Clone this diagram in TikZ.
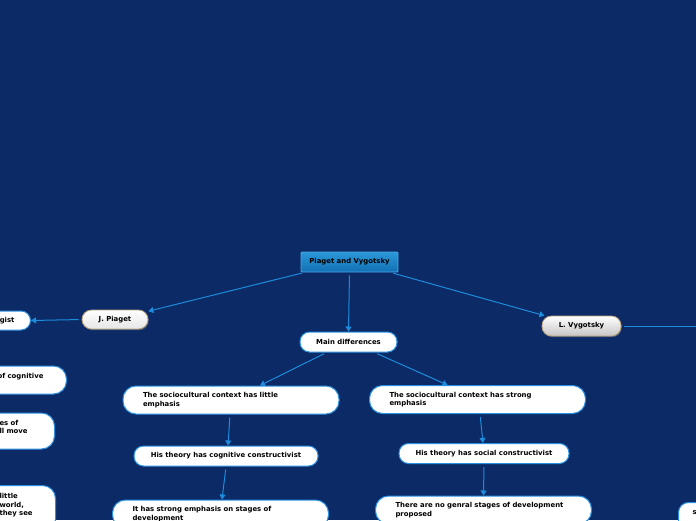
\documentclass[tikz,border=0pt]{standalone}
\usepackage{fontspec}
\setmainfont{DejaVu Sans}
\usetikzlibrary{arrows.meta,shadows}
\definecolor{navy}{HTML}{0B2A66}
\definecolor{linkblue}{HTML}{1E8CDC}
\definecolor{pillblue}{HTML}{2A90E0}
\definecolor{roottop}{HTML}{2A98D8}
\definecolor{rootbot}{HTML}{1270B4}
\definecolor{rootline}{HTML}{4AA8E8}
\definecolor{tanline}{HTML}{B8A27A}
\tikzset{
  link/.style={draw=linkblue, line width=1pt, shorten <=3pt, -{Triangle[length=5pt,width=6pt]}},
  plain/.style={draw=linkblue, line width=1pt, shorten <=3pt},
  pill/.style={draw=pillblue, line width=1pt, fill=white, rounded corners=9.5pt, inner sep=0pt, align=center},
  wide/.style={text width=176pt, inner xsep=20pt, minimum height=28pt, align=left, rounded corners=13pt},
  topic/.style={draw=rootline, line width=0.8pt, top color=roottop, bottom color=rootbot, rounded corners=1pt, inner sep=0pt},
  person/.style={draw=tanline, line width=0.8pt, rounded corners=9.5pt, inner sep=0pt,
    drop shadow={shadow xshift=0.8pt, shadow yshift=-1.2pt, opacity=0.5}}
}
\begin{document}
\begin{tikzpicture}[x=1pt, y=-1pt, every node/.style={font=\bfseries\fontsize{6.9}{8.5}\selectfont}]
\useasboundingbox (0,0) rectangle (696,520);
\fill[navy] (0,0) rectangle (696,520);
\clip (0,0) rectangle (696,520);
% Central topic and main branches
\node[topic, minimum width=97pt, minimum height=20pt] (root) at (349.5,262) {Piaget and Vygotsky};
\node[person, top color=white, bottom color=gray!20, minimum width=66pt, minimum height=19pt] (plaget) at (115,319.5) {J. Piaget};
\node[person, top color=white, bottom color=gray!45, minimum width=79pt, minimum height=20pt] (vygotsky) at (581.5,326) {L. Vygotsky};
\node[pill, minimum width=97pt, minimum height=20pt] (main) at (348.5,342) {Main differences};
% Piaget side (cut off at the left edge)
\node[pill, anchor=east, text width=48pt, inner xsep=16pt, minimum height=19pt, align=right] (gist) at (31,320.5) {gist};
\node[pill, anchor=east, text width=50pt, inner xsep=23pt, minimum height=28pt, align=right, rounded corners=13pt] (cognitive) at (67,380) {of cognitive\\\mbox{}};
\node[pill, anchor=east, text width=40pt, inner xsep=15pt, minimum height=36pt, align=left, rounded corners=13pt] (move) at (55,431) {es of\\ll move\\\mbox{}};
\node[pill, anchor=north east, text width=40pt, inner xsep=16pt, inner ysep=8pt, align=left, rounded corners=13pt] (world) at (56,485) {little\\world,\\they see\\\mbox{}};
% Vygotsky side (cut off at the right edge)
\coordinate (offright) at (702,326);
\node[pill, anchor=north west, text width=40pt, inner xsep=14pt, inner ysep=8pt, align=left, rounded corners=10pt] (farright) at (678,502) {s\\\mbox{}};
% Main differences, Piaget column
\node[pill, wide] (socioL) at (231,400) {The sociocultural context has little\\emphasis};
\node[pill, minimum width=184pt, minimum height=20pt] (cogL) at (226,456) {His theory has cognitive constructivist};
\node[pill, wide] (stageL) at (220.5,514) {It has strong emphasis on stages of\\development};
% Main differences, Vygotsky column
\node[pill, wide] (socioR) at (477.5,399.5) {The sociocultural context has strong\\emphasis};
\node[pill, minimum width=170pt, minimum height=20pt] (socR) at (484,453.5) {His theory has social constructivist};
\node[pill, wide] (stageR) at (483.5,510) {There are no genral stages of development\\proposed};
% Connectors
\draw[link] ([xshift=4pt]root.south west) -- (plaget);
\draw[link] ([xshift=-8pt]root.south east) -- (vygotsky);
\draw[link] (root.south) -- (main.north);
\draw[link] (plaget.west) -- (gist.east);
\draw[plain] (vygotsky.east) -- (offright);
\draw[link] ([xshift=-22pt]main.south) -- ([xshift=29pt]socioL.north);
\draw[link] ([xshift=26pt]main.south) -- ([xshift=-30pt]socioR.north);
\draw[link] ([xshift=-1pt]socioL.south) -- ([xshift=2pt]cogL.north);
\draw[link] (cogL.south) -- ([xshift=1.5pt]stageL.north);
\draw[link] ([xshift=2.5pt]socioR.south) -- ([xshift=-1pt]socR.north);
\draw[link] (socR.south) -- (stageR.north);
\end{tikzpicture}
\end{document}
